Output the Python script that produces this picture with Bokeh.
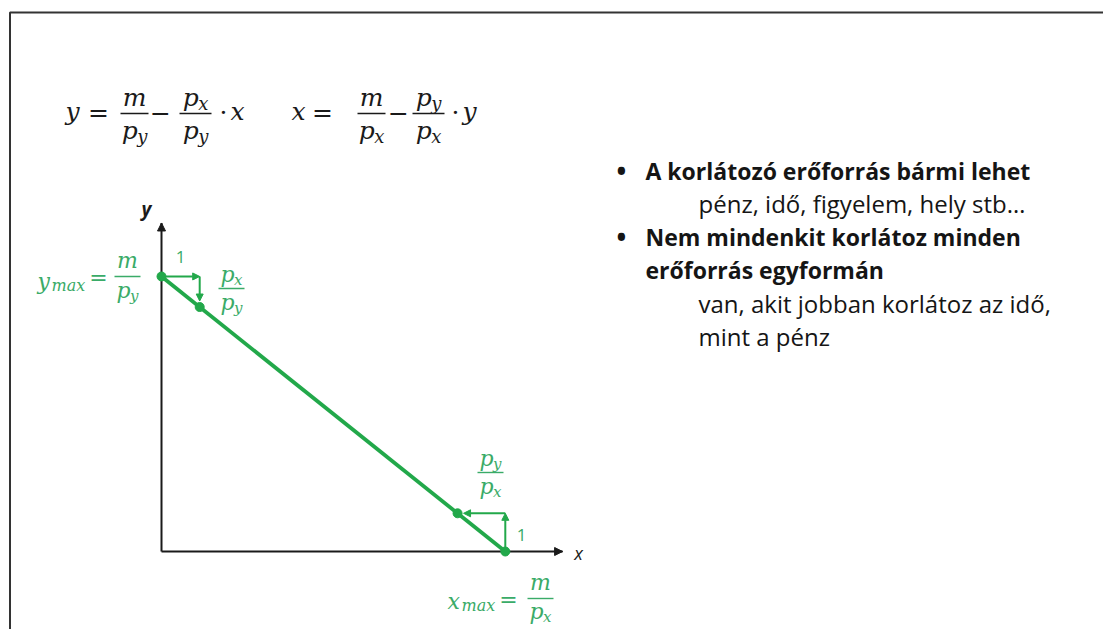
from bokeh.plotting import figure
from bokeh.models import Range1d, Label, Arrow, NormalHead
from bokeh.embed import file_html
from bokeh.resources import INLINE

# ---------------- data ----------------
m = 36.0          # budget
p_x = 4.0         # price of x
p_y = 5.0         # price of y
axis_x_end = 10.5
axis_y_end = 8.6
x_max = m / p_x
y_max = m / p_y

bullet_lines = ["A korlátozó erőforrás bármi lehet",
                "Nem mindenkit korlátoz minden",
                "erőforrás egyformán"]
bullet_marks = [True, True, False]
sub_lines_1 = ["pénz, idő, figyelem, hely stb…"]
sub_lines_2 = ["van, akit jobban korlátoz az idő,", "mint a pénz"]

# ---------------- layout helpers ----------------
W, H = 1103, 629
S = 38.2                 # pixels per unit
OX, OY = 161, 551        # page position of the origin
x0 = -OX / S
y1 = OY / S
TY = -6                  # baseline correction for alphabetic labels


def X(px):
    return x0 + px / S


def Y(py):
    return y1 - py / S


GREEN = "#22a84a"
TGREEN = "#3aab68"
DARK = "#1a1a1a"
MATH = "DejaVu Serif"
SANS = "Open Sans"

p = figure(width=W, height=H, x_range=Range1d(x0, x0 + W / S),
           y_range=Range1d(y1 - H / S, y1), output_backend="svg",
           toolbar_location=None, min_border=0, x_axis_location=None,
           y_axis_location=None, title=None)
p.outline_line_color = None
p.grid.visible = False
p.background_fill_color = "white"
p.border_fill_color = "white"


def lab(px, py, text, fs, color=DARK, font=MATH, style="italic",
        align="center", baseline="alphabetic"):
    if baseline == "alphabetic":
        py = py + TY
    p.add_layout(Label(x=X(px), y=Y(py), text=text, text_font=font,
                       text_font_size=f"{fs}px", text_font_style=style,
                       text_color=color, text_align=align,
                       text_baseline=baseline))


def sym(cx, by, base, sub, fs, color=DARK):
    if not sub:
        lab(cx, by, base, fs, color)
        return
    sfs = round(fs * 0.7)
    wb = 0.62 * fs
    ws = 0.56 * sfs * len(sub)
    left = cx - (wb + ws) / 2
    lab(left, by, base, fs, color, align="left")
    lab(left + wb, by + 0.25 * fs, sub, sfs, color, align="left")


def frac(cx, bar_y, half, num, den, fs, color=DARK, dn=10, dd=23, lw=1.4):
    p.segment(x0=[X(cx - half)], y0=[Y(bar_y)], x1=[X(cx + half)], y1=[Y(bar_y)],
              line_color=color, line_width=lw)
    sym(cx, bar_y - dn, num[0], num[1], fs, color)
    sym(cx, bar_y + dd, den[0], den[1], fs, color)


def op(cx, cy, s, fs, color=DARK):
    lab(cx, cy, s, fs, color, style="normal", baseline="middle")


# ---------------- slide border ----------------
p.line(x=[X(9.5), X(9.5), X(1110)], y=[Y(640), Y(12), Y(12)],
       line_color="#333333", line_width=2)

# ---------------- formulas ----------------
FS = 25
sym(72, 117, "y", "", FS)
op(98, 112, "=", FS)
frac(134, 113, 14, ("m", ""), ("p", "y"), FS)
op(160, 112, "−", FS)
frac(195, 113, 16, ("p", "x"), ("p", "y"), FS)
op(223, 112, "·", FS)
sym(237, 117, "x", "", FS)

sym(298, 117, "x", "", FS)
op(322, 112, "=", FS)
frac(371, 113, 14, ("m", ""), ("p", "x"), FS)
op(398, 112, "−", FS)
frac(428, 113, 16, ("p", "y"), ("p", "x"), FS)
op(455, 112, "·", FS)
sym(469, 117, "y", "", FS)

# ---------------- diagram ----------------
p.line(x=[0, 0], y=[0, axis_y_end], line_color=DARK, line_width=2)
p.line(x=[0, axis_x_end], y=[0, 0], line_color=DARK, line_width=2)
p.add_layout(Arrow(end=NormalHead(size=8, fill_color=DARK, line_color=DARK),
                   x_start=0, y_start=axis_y_end - 0.05, x_end=0, y_end=axis_y_end,
                   line_color=DARK, line_width=2))
p.add_layout(Arrow(end=NormalHead(size=8, fill_color=DARK, line_color=DARK),
                   x_start=axis_x_end - 0.05, y_start=0, x_end=axis_x_end, y_end=0,
                   line_color=DARK, line_width=2))

# budget line
p.line(x=[0, x_max], y=[y_max, 0], line_color=GREEN, line_width=3.8)

gap = 6 / S
slope = p_x / p_y
inv = p_y / p_x
# top step: 1 unit of x costs p_x/p_y units of y
p.add_layout(Arrow(end=NormalHead(size=7, fill_color=GREEN, line_color=GREEN),
                   x_start=0, y_start=y_max, x_end=1, y_end=y_max,
                   line_color=GREEN, line_width=2))
p.add_layout(Arrow(end=NormalHead(size=7, fill_color=GREEN, line_color=GREEN),
                   x_start=1, y_start=y_max, x_end=1, y_end=y_max - slope + gap,
                   line_color=GREEN, line_width=2))
# bottom step: 1 unit of y costs p_y/p_x units of x
p.add_layout(Arrow(end=NormalHead(size=7, fill_color=GREEN, line_color=GREEN),
                   x_start=x_max, y_start=0, x_end=x_max, y_end=1,
                   line_color=GREEN, line_width=2))
p.add_layout(Arrow(end=NormalHead(size=7, fill_color=GREEN, line_color=GREEN),
                   x_start=x_max, y_start=1, x_end=x_max - inv + gap, y_end=1,
                   line_color=GREEN, line_width=2))

p.scatter(x=[0, 1, x_max, x_max - inv], y=[y_max, y_max - slope, 0, 1],
          size=9, fill_color=GREEN, line_color=GREEN)

# axis labels
lab(146, 214, "y", 19, DARK, font=SANS, style="bold italic")
lab(578, 558, "x", 18, DARK, font=SANS, style="italic")
# step labels
lab(180, 262, "1", 17, TGREEN, font=SANS, style="normal")
lab(521, 540, "1", 17, TGREEN, font=SANS, style="normal")

GF = 22
# y_max = m / p_y
lab(37, 287, "y", GF, TGREEN, align="left")
lab(51, 291, "max", 16, TGREEN, align="left")
op(98, 277, "=", GF, TGREEN)
frac(127, 276, 13, ("m", ""), ("p", "y"), GF, TGREEN, dn=10, dd=20)
# p_x / p_y near the top step
frac(231, 288, 13, ("p", "x"), ("p", "y"), GF, TGREEN, dn=8, dd=20)
# p_y / p_x near the bottom step
frac(490, 472, 13, ("p", "y"), ("p", "x"), GF, TGREEN, dn=8, dd=20)
# x_max = m / p_x
lab(447, 607, "x", GF, TGREEN, align="left")
lab(461, 611, "max", 16, TGREEN, align="left")
op(508, 599, "=", GF, TGREEN)
frac(540, 598, 13, ("m", ""), ("p", "x"), GF, TGREEN, dn=10, dd=19)

# ---------------- bullet text ----------------
TB = 23
TR = 24
TC = "#151515"
baselines_b = [176, 242, 275]
for txt, mark, by in zip(bullet_lines, bullet_marks, baselines_b):
    if mark:
        lab(621, by, "•", 26, TC, font=SANS, style="bold")
    lab(645, by, txt, TB, TC, font=SANS, style="bold", align="left")
for txt, by in zip(sub_lines_1 + sub_lines_2, [209, 309, 342]):
    lab(698, by, txt, TR, TC, font=SANS, style="normal", align="left")

open("out.html", "w").write(file_html(p, INLINE))
